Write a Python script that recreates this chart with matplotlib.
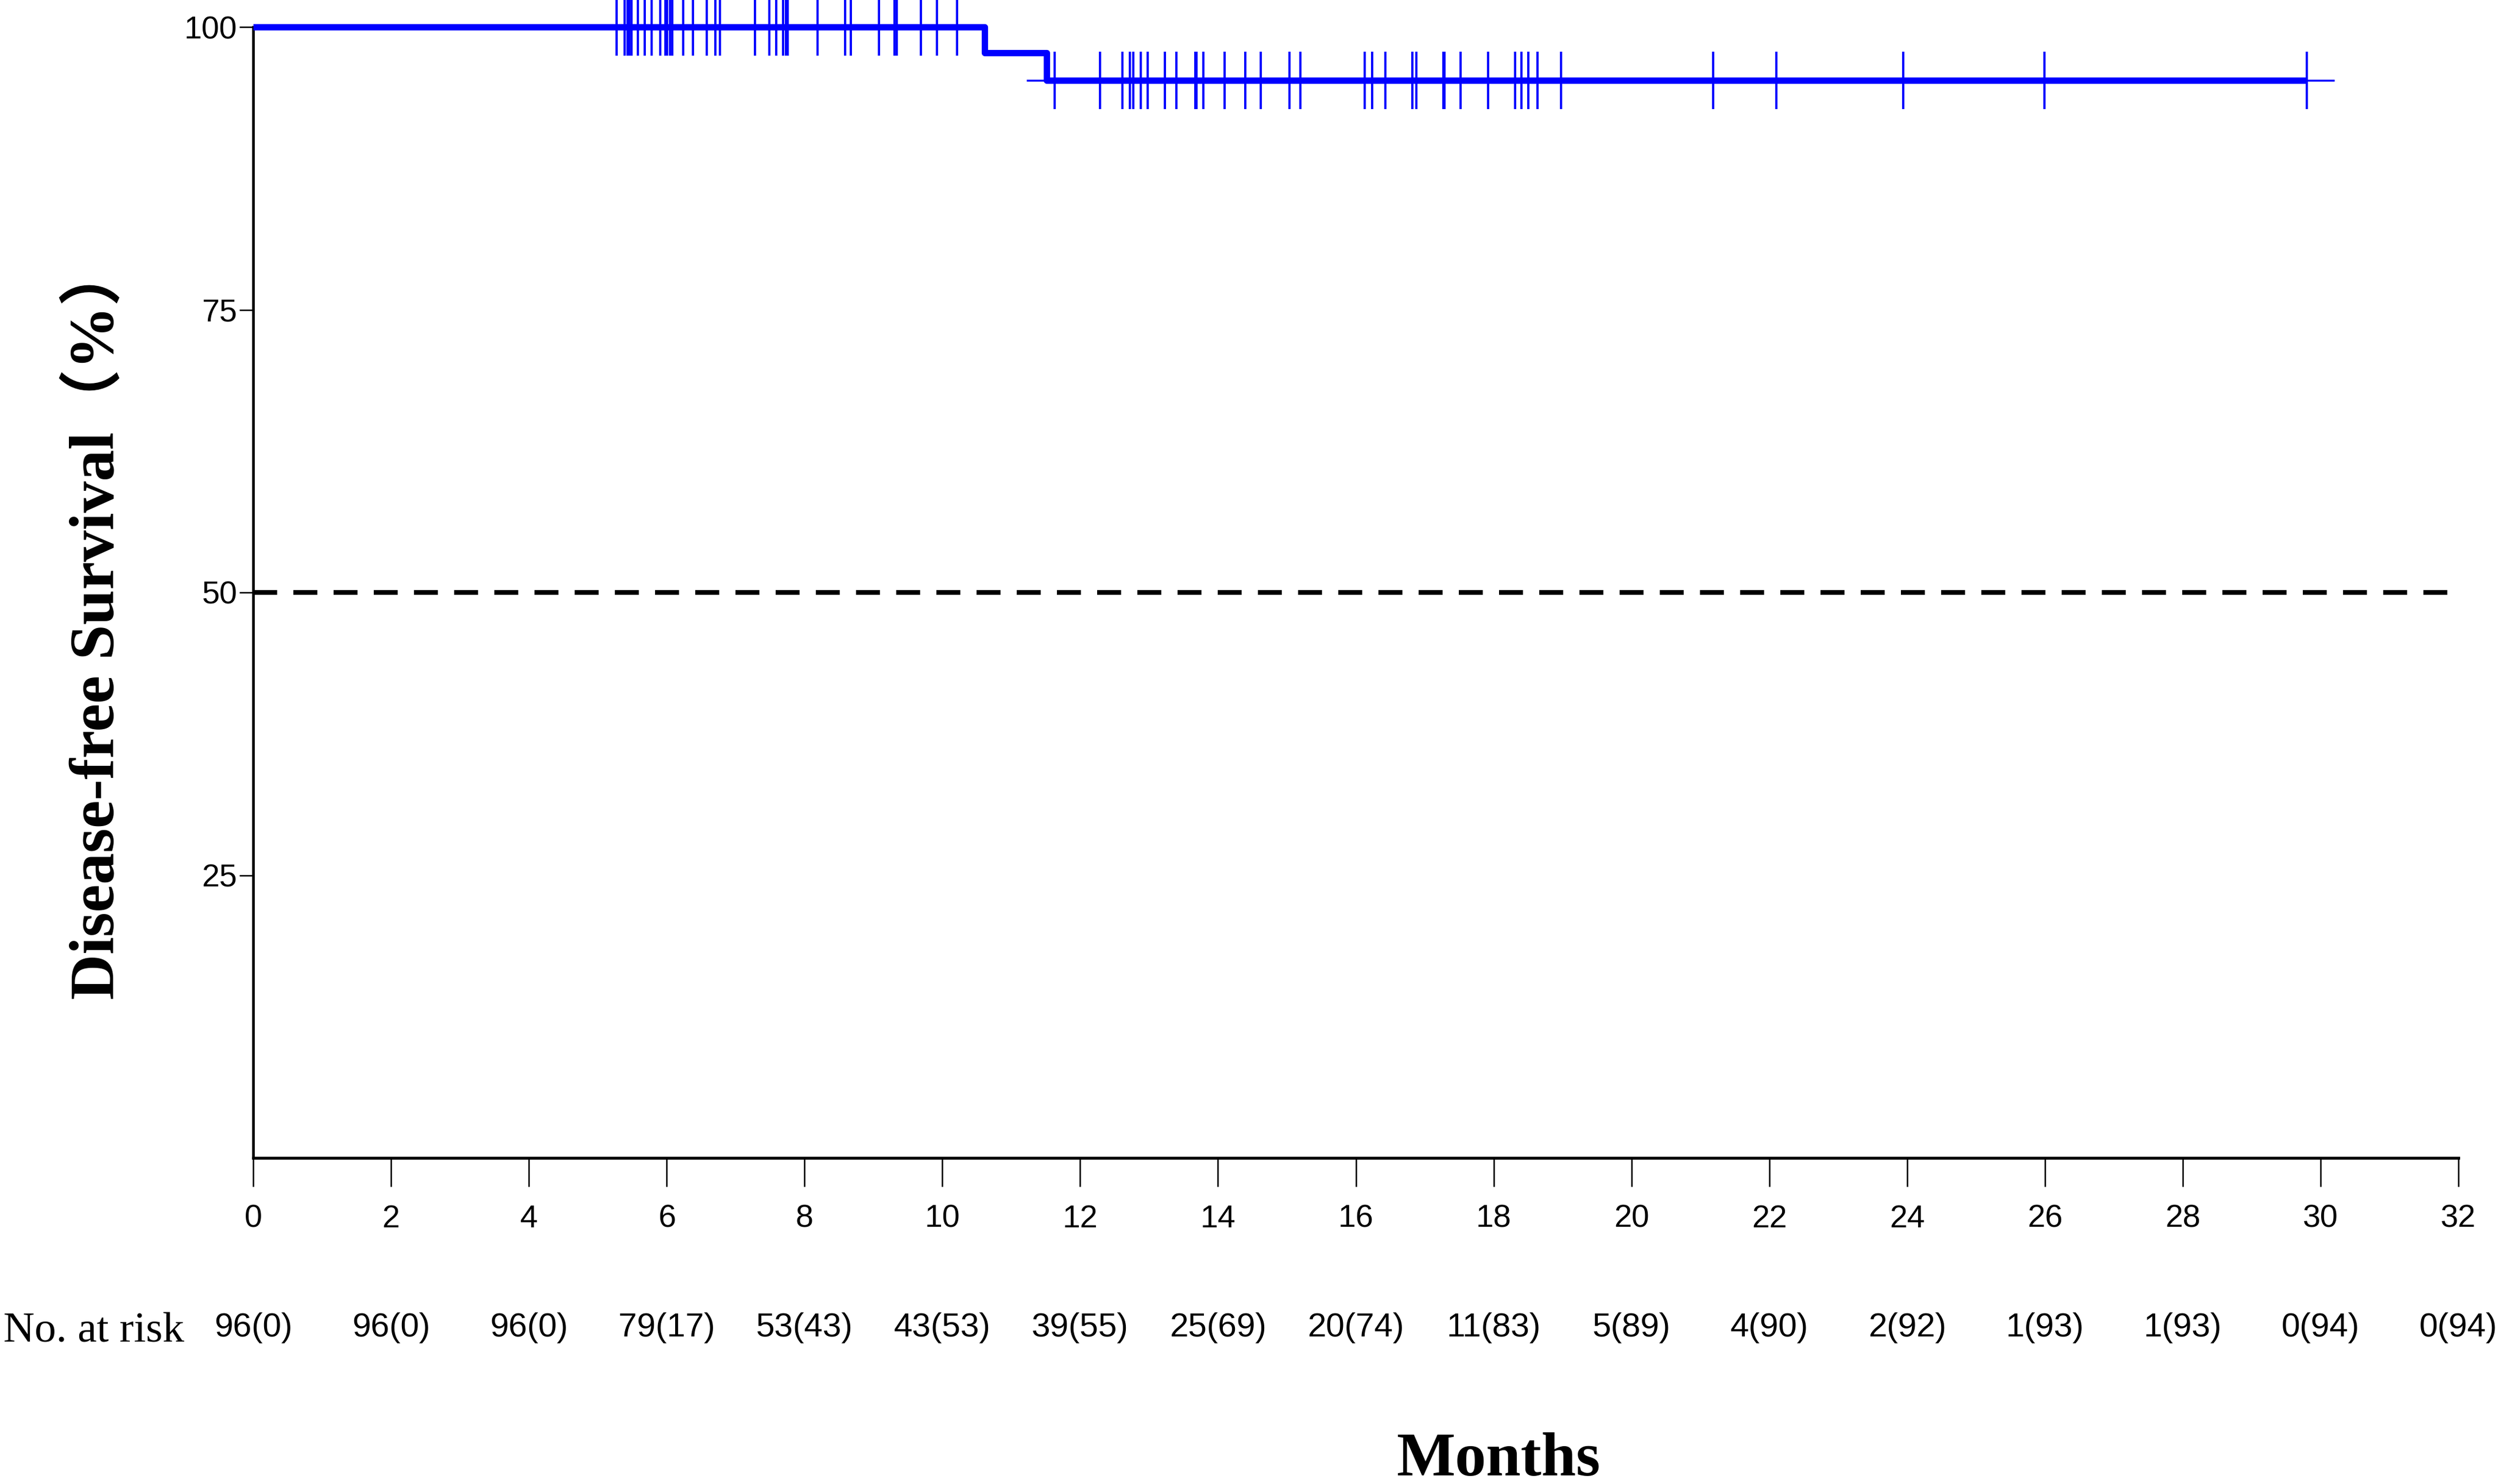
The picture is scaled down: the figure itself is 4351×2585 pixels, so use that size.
import numpy as np
import matplotlib
matplotlib.use('Agg')
import matplotlib.pyplot as plt
import matplotlib.transforms as mtransforms

# Kaplan-Meier curve
event_times = [0, 10.61, 11.51, 29.8]
survival = [100, 97.7, 95.3, 95.3]
tail_start = 11.22
tail_end = 30.2

censor_times = [5.275, 5.39, 5.43, 5.46, 5.49, 5.58, 5.68, 5.78, 5.91, 5.98,
                6.01, 6.05, 6.08, 6.24, 6.38, 6.58, 6.71, 6.77, 7.28, 7.49,
                7.59, 7.69, 7.73, 7.76, 8.19, 8.59, 8.67, 9.08, 9.31, 9.34,
                9.69, 9.92, 10.21,
                11.63, 12.29, 12.61, 12.72, 12.77, 12.88, 12.98, 13.23, 13.40,
                13.67, 13.69, 13.79, 14.10, 14.40, 14.62, 15.04, 15.20, 16.13,
                16.24, 16.43, 16.82, 16.88, 17.27, 17.29, 17.52, 17.92, 18.31,
                18.40, 18.50, 18.64, 18.98, 21.19, 22.10, 23.94, 25.99, 29.80]

x_ticks = list(range(0, 33, 2))
y_ticks = [25, 50, 75, 100]
at_risk = ['96(0)', '96(0)', '96(0)', '79(17)', '53(43)', '43(53)', '39(55)',
           '25(69)', '20(74)', '11(83)', '5(89)', '4(90)', '2(92)', '1(93)',
           '1(93)', '0(94)', '0(94)']

blue = '#0000FF'
sans = 'Liberation Sans'
serif = 'Liberation Serif'


def level_at(t):
    lvl = survival[0]
    for et, s in zip(event_times, survival):
        if t >= et:
            lvl = s
    return lvl


fig = plt.figure(figsize=(43.51, 25.85), dpi=100)
ax = fig.add_axes([441/4351, 1-2017/2585, (4282-441)/4351, (2017-47)/2585])

# thin continuation line then the thick KM step line
ax.plot([tail_start, tail_end], [survival[-1], survival[-1]], color=blue, lw=2.5,
        solid_capstyle='butt', zorder=3)
ax.plot(event_times, survival, drawstyle='steps-post', color=blue, lw=8,
        solid_capstyle='butt', clip_on=False, zorder=4)
censor_y = [level_at(t) for t in censor_times]
ax.plot(censor_times, censor_y, linestyle='none', marker='|', markersize=72,
        markeredgewidth=2.8, color=blue, clip_on=False, zorder=5)

# 50% reference line
ax.plot([0, 32], [50, 50], color='black', lw=6, dashes=(5.0, 3.4), zorder=2)

ax.set_xlim(0, 32)
ax.set_ylim(0, 100)
ax.spines['top'].set_visible(False)
ax.spines['right'].set_visible(False)
ax.spines['left'].set_linewidth(3.3)
ax.spines['bottom'].set_linewidth(3.6)

ax.set_xticks(x_ticks)
ax.set_yticks(y_ticks)
ax.tick_params(axis='x', direction='out', length=36, width=1.8, pad=22,
               labelsize=40)
ax.tick_params(axis='y', direction='out', length=17, width=1.8, pad=3,
               labelsize=40)
for lab in ax.get_xticklabels() + ax.get_yticklabels():
    lab.set_family(sans)

# y label and x label
fig.text(168/4351, 1-1082/2585, 'Disease-free Survival（%）', rotation=90,
         ha='center', va='center', fontsize=79, fontweight='bold',
         family=[serif, 'Noto Sans CJK SC'])
fig.text(2610/4351, 1-2570/2585, 'Months', ha='center', va='baseline',
         fontsize=78, fontweight='bold', family=serif)

# number at risk row
fig.text(6/4351, 1-2337/2585, 'No. at risk', ha='left', va='baseline',
         fontsize=54, family=serif)
trans = mtransforms.blended_transform_factory(ax.transData, fig.transFigure)
for xt, lab in zip(x_ticks, at_risk):
    ax.text(xt, 1-2328/2585, lab, transform=trans, ha='center', va='baseline',
            fontsize=42, family=sans)

fig.savefig('out.png', dpi=100)
